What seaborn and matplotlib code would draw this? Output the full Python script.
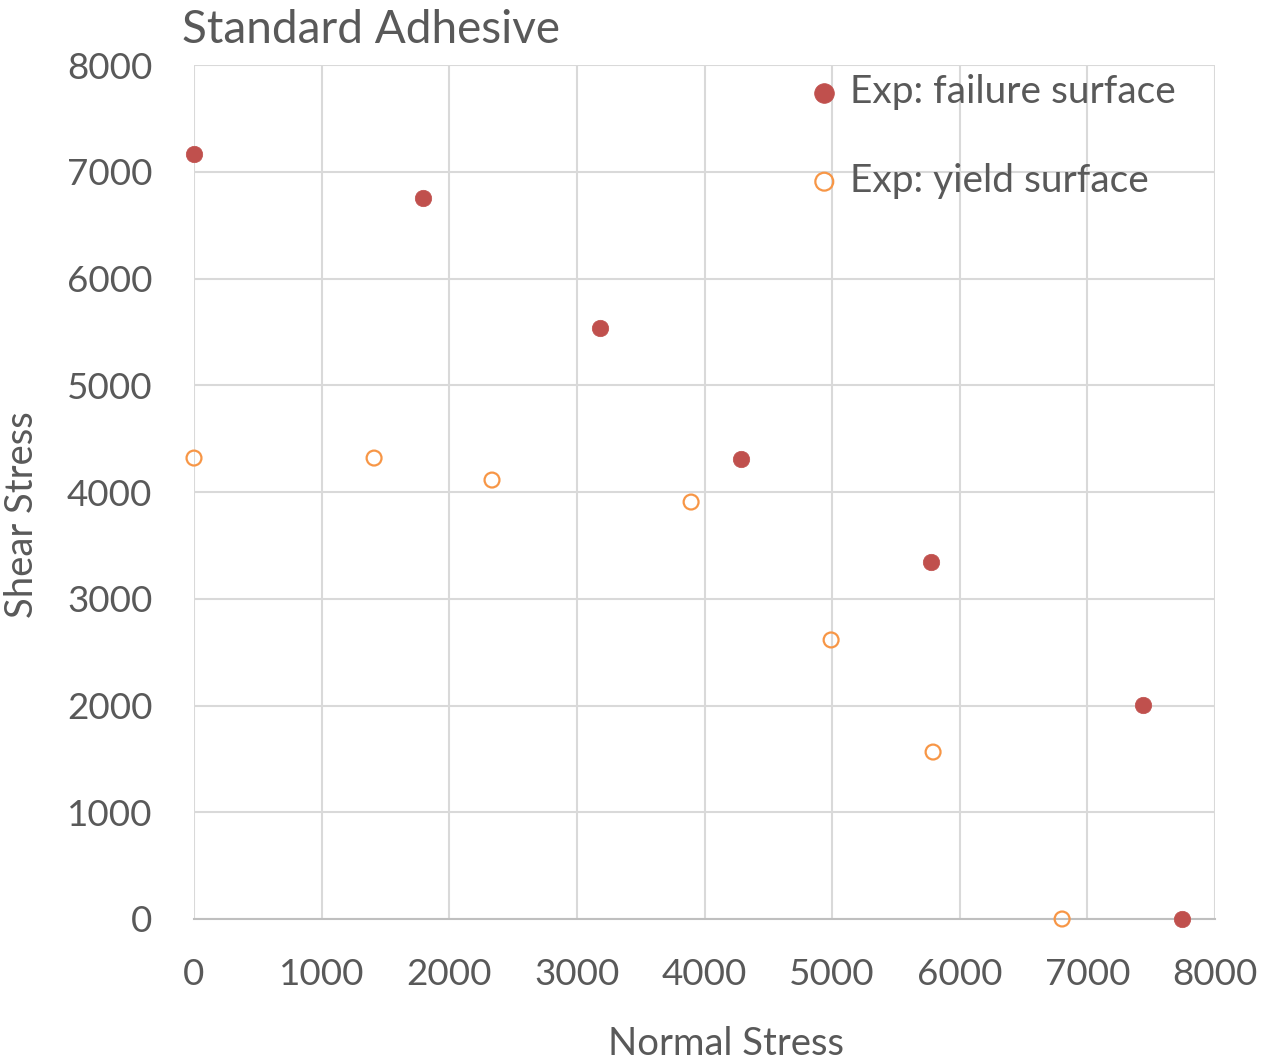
import matplotlib
matplotlib.use("Agg")
import matplotlib.pyplot as plt
import seaborn as sns
import pandas as pd

fail_x = [0, 1795, 3182, 4287, 5776, 7437, 7743]
fail_y = [7170, 6750, 5535, 4310, 3345, 2005, 0]
yield_x = [0, 1411, 2335, 3895, 4992, 5791, 6802]
yield_y = [4318, 4318, 4112, 3906, 2614, 1564, 0]
ticks = [0, 1000, 2000, 3000, 4000, 5000, 6000, 7000, 8000]

sns.set_theme(style="white")
plt.rcParams['font.family'] = ['Lato', 'DejaVu Sans']
TXT = "#595959"

fig = plt.figure(figsize=(12.64, 10.63), dpi=100)
ax = fig.add_axes([194/1264, 1-919/1063, (1215-194)/1264, (919-65)/1063])

df_f = pd.DataFrame({"x": fail_x, "y": fail_y})
df_y = pd.DataFrame({"x": yield_x, "y": yield_y})

sns.scatterplot(data=df_f, x="x", y="y", ax=ax, color="#C0504D", s=140,
                edgecolor="#C0504D", linewidth=0.5, label="Exp: failure surface",
                clip_on=False, zorder=5)
sns.scatterplot(data=df_y, x="x", y="y", ax=ax, facecolors="none", s=115,
                edgecolor="#F79646", linewidth=1.6, label="Exp: yield surface",
                clip_on=False, zorder=5)

ax.set_xlim(0, 8000)
ax.set_ylim(0, 8000)
ax.set_xticks(ticks)
ax.set_yticks(ticks)
ax.grid(True, color="#d9d9d9", linewidth=1.5)
ax.set_axisbelow(True)
for s in ["top", "right", "left"]:
    ax.spines[s].set_visible(False)
ax.spines["bottom"].set_color("#bfbfbf")
ax.spines["bottom"].set_linewidth(1.5)

ax.tick_params(axis="x", labelsize=26.5, labelcolor=TXT, pad=28, length=0)
ax.tick_params(axis="y", labelsize=26.5, labelcolor=TXT, pad=30, length=0)

ax.set_xlabel("Normal Stress", fontsize=27.5, color=TXT)
ax.set_ylabel("Shear Stress", fontsize=27.5, color=TXT)
ax.xaxis.set_label_coords(0.521, -0.125)
ax.yaxis.set_label_coords(-0.151, 0.473)

ax.text(-0.012, 1.0258, "Standard Adhesive", transform=ax.transAxes,
        fontsize=33, color=TXT, ha="left", va="baseline")

leg = ax.legend(loc="upper left", bbox_to_anchor=(0.564, 1.030), frameon=False,
                fontsize=28, labelspacing=1.35, handletextpad=0.15,
                handlelength=1.0, markerscale=1.2)
for t in leg.get_texts():
    t.set_color(TXT)

fig.savefig("out.png", dpi=100)
